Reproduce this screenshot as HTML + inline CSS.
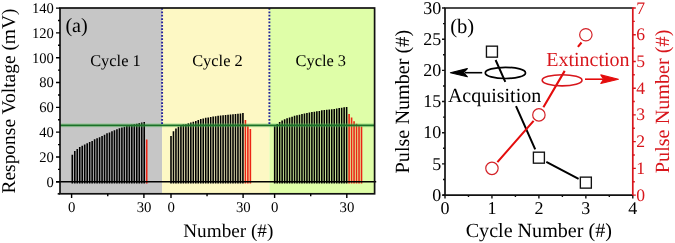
<!DOCTYPE html>
<html><head><meta charset="utf-8"><style>
html,body{margin:0;padding:0;background:#fff;}
body{width:675px;height:243px;overflow:hidden;}
svg{display:block;font-family:"Liberation Serif", serif;text-rendering:geometricPrecision;will-change:transform;}
</style></head><body>
<svg width="675" height="243" viewBox="0 0 675 243">
<rect x="60.0" y="8.0" width="102.1" height="185.8" fill="#c6c6c6"/>
<rect x="162.1" y="8.0" width="107.29999999999998" height="185.8" fill="#fdf8c4"/>
<rect x="269.4" y="8.0" width="105.20000000000005" height="185.8" fill="#dffea8"/>
<path d="M72.30 183.6V154.70 M74.78 183.6V151.03 M77.26 183.6V149.03 M79.74 183.6V146.98 M82.22 183.6V145.74 M84.70 183.6V144.55 M87.18 183.6V143.35 M89.66 183.6V141.92 M92.14 183.6V141.10 M94.62 183.6V139.35 M97.10 183.6V138.32 M99.58 183.6V137.26 M102.06 183.6V135.97 M104.54 183.6V134.63 M107.02 183.6V133.35 M109.50 183.6V132.40 M111.98 183.6V131.14 M114.46 183.6V130.28 M116.94 183.6V129.24 M119.42 183.6V128.26 M121.90 183.6V127.47 M124.38 183.6V126.71 M126.86 183.6V126.04 M129.34 183.6V125.34 M131.82 183.6V124.74 M134.30 183.6V124.15 M136.78 183.6V123.64 M139.26 183.6V123.07 M141.74 183.6V122.59 M144.22 183.6V121.90" stroke="#000" stroke-width="1.6" fill="none"/>
<path d="M146.70 183.6V139.5" stroke="#ec2414" stroke-width="1.6" fill="none"/>
<path d="M171.00 183.6V136.00 M173.48 183.6V131.24 M175.96 183.6V128.46 M178.44 183.6V126.80 M180.92 183.6V125.54 M183.40 183.6V124.58 M185.88 183.6V124.17 M188.36 183.6V123.33 M190.84 183.6V122.50 M193.32 183.6V121.79 M195.80 183.6V120.89 M198.28 183.6V119.96 M200.76 183.6V119.07 M203.24 183.6V118.45 M205.72 183.6V117.85 M208.20 183.6V117.44 M210.68 183.6V117.06 M213.16 183.6V116.62 M215.64 183.6V116.29 M218.12 183.6V115.82 M220.60 183.6V115.50 M223.08 183.6V115.29 M225.56 183.6V115.00 M228.04 183.6V114.80 M230.52 183.6V114.50 M233.00 183.6V114.30 M235.48 183.6V114.01 M237.96 183.6V113.69 M240.44 183.6V113.41 M242.92 183.6V113.00" stroke="#000" stroke-width="1.6" fill="none"/>
<path d="M245.40 183.6V120 M247.88 183.6V126.2 M250.36 183.6V129" stroke="#ec2414" stroke-width="1.6" fill="none"/>
<path d="M274.70 183.6V126.20 M277.18 183.6V123.93 M279.66 183.6V121.90 M282.14 183.6V120.38 M284.62 183.6V119.35 M287.10 183.6V118.37 M289.58 183.6V117.61 M292.06 183.6V116.78 M294.54 183.6V115.79 M297.02 183.6V115.29 M299.50 183.6V114.63 M301.98 183.6V114.00 M304.46 183.6V113.41 M306.94 183.6V112.93 M309.42 183.6V112.42 M311.90 183.6V112.11 M314.38 183.6V111.69 M316.86 183.6V111.31 M319.34 183.6V110.89 M321.82 183.6V110.28 M324.30 183.6V110.08 M326.78 183.6V109.79 M329.26 183.6V109.57 M331.74 183.6V109.28 M334.22 183.6V109.00 M336.70 183.6V108.56 M339.18 183.6V108.08 M341.66 183.6V107.79 M344.14 183.6V107.28 M346.62 183.6V107.00" stroke="#000" stroke-width="1.6" fill="none"/>
<path d="M349.10 183.6V114 M351.58 183.6V117.6 M354.06 183.6V121.3 M356.54 183.6V123.7 M359.02 183.6V125.6 M361.50 183.6V126.5" stroke="#ec2414" stroke-width="1.6" fill="none"/>
<line x1="60.0" y1="125.35" x2="374.6" y2="125.35" stroke="#60c860" stroke-opacity="0.35" stroke-width="4"/>
<line x1="60.0" y1="125.35" x2="374.6" y2="125.35" stroke="#1b7228" stroke-width="1.6"/>
<line x1="162.1" y1="8.1" x2="162.1" y2="124.3" stroke="#22229a" stroke-width="1.9" stroke-dasharray="1.75 1.61"/>
<line x1="269.4" y1="8.1" x2="269.4" y2="124.3" stroke="#22229a" stroke-width="1.9" stroke-dasharray="1.75 1.61"/>
<line x1="56" y1="181.8" x2="376.2" y2="181.8" stroke="#000" stroke-width="1.6"/>
<rect x="60.0" y="8.0" width="314.6" height="185.8" fill="none" stroke="#111" stroke-width="1.7"/>
<line x1="57.7" y1="193.8" x2="60.0" y2="193.8" stroke="#111" stroke-width="1.7"/>
<path d="M56 181.80H60.0 M56 156.99H60.0 M56 132.17H60.0 M56 107.36H60.0 M56 82.54H60.0 M56 57.73H60.0 M56 32.92H60.0 M56 8.10H60.0 M58 169.39H60.0 M58 144.58H60.0 M58 119.77H60.0 M58 94.95H60.0 M58 70.14H60.0 M58 45.32H60.0 M58 20.51H60.0 M71.60 193.8V198.0 M107.75 193.8V196.3 M143.90 193.8V198.0 M171.00 193.8V198.0 M207.05 193.8V196.3 M243.10 193.8V198.0 M274.60 193.8V198.0 M310.70 193.8V196.3 M346.80 193.8V198.0" stroke="#000" stroke-width="1.4" fill="none"/>
<text x="53.8" y="186.70" text-anchor="end" font-size="14.6">0</text>
<text x="53.8" y="161.89" text-anchor="end" font-size="14.6">20</text>
<text x="53.8" y="137.07" text-anchor="end" font-size="14.6">40</text>
<text x="53.8" y="112.26" text-anchor="end" font-size="14.6">60</text>
<text x="53.8" y="87.44" text-anchor="end" font-size="14.6">80</text>
<text x="53.8" y="62.63" text-anchor="end" font-size="14.6">100</text>
<text x="53.8" y="37.82" text-anchor="end" font-size="14.6">120</text>
<text x="53.8" y="13.00" text-anchor="end" font-size="14.6">140</text>
<text x="71.80" y="211.8" text-anchor="middle" font-size="14.8">0</text>
<text x="144.10" y="211.8" text-anchor="middle" font-size="14.8">30</text>
<text x="171.20" y="211.8" text-anchor="middle" font-size="14.8">0</text>
<text x="243.30" y="211.8" text-anchor="middle" font-size="14.8">30</text>
<text x="274.80" y="211.8" text-anchor="middle" font-size="14.8">0</text>
<text x="347.00" y="211.8" text-anchor="middle" font-size="14.8">30</text>
<text transform="translate(14.9 101.0) rotate(-90)" text-anchor="middle" font-size="19.45">Response Voltage (mV)</text>
<text x="228.3" y="236.8" text-anchor="middle" font-size="19.2">Number (#)</text>
<text x="90.2" y="65.5" font-size="16.4">Cycle 1</text>
<text x="192.2" y="65.7" font-size="16.4">Cycle 2</text>
<text x="295.5" y="65.7" font-size="16.4">Cycle 3</text>
<text x="65.4" y="31.8" font-size="20.2">(a)</text>
<path d="M445.0 195.1V8.0H632.8" stroke="#111" stroke-width="1.7" fill="none"/>
<path d="M442.5 195.1H632.8" stroke="#111" stroke-width="1.7" fill="none"/>
<path d="M632.8 7.3V195.79999999999998" stroke="#d8161c" stroke-width="1.7" fill="none"/>
<path d="M442.0 195.10H445.0 M442.0 163.92H445.0 M442.0 132.73H445.0 M442.0 101.55H445.0 M442.0 70.37H445.0 M442.0 39.18H445.0 M442.0 8.00H445.0 M443.0 179.51H445.0 M443.0 148.32H445.0 M443.0 117.14H445.0 M443.0 85.96H445.0 M443.0 54.78H445.0 M443.0 23.59H445.0 M445.00 195.1V198.6 M491.95 195.1V198.6 M538.90 195.1V198.6 M585.85 195.1V198.6 M632.80 195.1V198.6 M468.48 195.1V197.1 M515.42 195.1V197.1 M562.38 195.1V197.1 M609.32 195.1V197.1" stroke="#111" stroke-width="1.4" fill="none"/>
<path d="M632.8 195.10H635.8 M632.8 168.37H635.8 M632.8 141.64H635.8 M632.8 114.91H635.8 M632.8 88.19H635.8 M632.8 61.46H635.8 M632.8 34.73H635.8 M632.8 8.00H635.8 M632.8 181.74H634.8 M632.8 155.01H634.8 M632.8 128.28H634.8 M632.8 101.55H634.8 M632.8 74.82H634.8 M632.8 48.09H634.8 M632.8 21.36H634.8" stroke="#d8161c" stroke-width="1.4" fill="none"/>
<text x="441.2" y="200.70" text-anchor="end" font-size="18">0</text>
<text x="441.2" y="169.52" text-anchor="end" font-size="18">5</text>
<text x="441.2" y="138.33" text-anchor="end" font-size="18">10</text>
<text x="441.2" y="107.15" text-anchor="end" font-size="18">15</text>
<text x="441.2" y="75.97" text-anchor="end" font-size="18">20</text>
<text x="441.2" y="44.78" text-anchor="end" font-size="18">25</text>
<text x="441.2" y="13.60" text-anchor="end" font-size="18">30</text>
<text x="445.00" y="213.6" text-anchor="middle" font-size="18">0</text>
<text x="491.95" y="213.6" text-anchor="middle" font-size="18">1</text>
<text x="538.90" y="213.6" text-anchor="middle" font-size="18">2</text>
<text x="585.85" y="213.6" text-anchor="middle" font-size="18">3</text>
<text x="632.80" y="213.6" text-anchor="middle" font-size="18">4</text>
<text x="636.3" y="200.60" font-size="17.6" fill="#d8161c">0</text>
<text x="636.3" y="173.87" font-size="17.6" fill="#d8161c">1</text>
<text x="636.3" y="147.14" font-size="17.6" fill="#d8161c">2</text>
<text x="636.3" y="120.41" font-size="17.6" fill="#d8161c">3</text>
<text x="636.3" y="93.69" font-size="17.6" fill="#d8161c">4</text>
<text x="636.3" y="66.96" font-size="17.6" fill="#d8161c">5</text>
<text x="636.3" y="40.23" font-size="17.6" fill="#d8161c">6</text>
<text x="636.3" y="13.50" font-size="17.6" fill="#d8161c">7</text>
<text transform="translate(408.9 101.65) rotate(-90)" text-anchor="middle" font-size="20.2">Pulse Number (#)</text>
<text transform="translate(669.4 101.4) rotate(-90)" text-anchor="middle" font-size="20.2" fill="#d8161c">Pulse Number (#)</text>
<text x="538.8" y="237.0" text-anchor="middle" font-size="20.1">Cycle Number (#)</text>
<text x="450.2" y="32.6" font-size="20.6">(b)</text>
<path d="M495.6 60 L505.3 81.8 M516.0 106.2 L535.2 149.4 M546.3 161.8 L578.6 178.8" stroke="#000" stroke-width="2" fill="none"/>
<rect x="486.45" y="46.16" width="11" height="11" fill="none" stroke="#111" stroke-width="1.35"/>
<rect x="533.40" y="152.18" width="11" height="11" fill="none" stroke="#111" stroke-width="1.35"/>
<rect x="580.35" y="177.13" width="11" height="11" fill="none" stroke="#111" stroke-width="1.35"/>
<path d="M497.4 162.1 L533.6 120.9 M543.4 107.3 L564.7 70.9 M577.9 46.8 L581.5 42.5" stroke="#e40c0c" stroke-width="2.1" fill="none"/>
<circle cx="491.95" cy="168.37" r="6.2" fill="none" stroke="#d42228" stroke-width="1.2"/>
<circle cx="538.90" cy="114.91" r="6.2" fill="none" stroke="#d42228" stroke-width="1.2"/>
<circle cx="585.85" cy="34.73" r="6.2" fill="none" stroke="#d42228" stroke-width="1.2"/>
<ellipse cx="505.4" cy="72.9" rx="20.1" ry="5.6" fill="none" stroke="#000" stroke-width="1.7"/>
<line x1="465" y1="72.7" x2="482.2" y2="72.7" stroke="#000" stroke-width="1.6"/>
<path d="M450.4 72.7 L467.4 68.6 L463.6 72.7 L467.4 76.8 Z" fill="#000" stroke="#000" stroke-width="1.1" stroke-linejoin="round"/>
<text x="447.9" y="101.7" font-size="20">Acquisition</text>
<ellipse cx="562.1" cy="80.3" rx="19.9" ry="5.6" fill="none" stroke="#d8161c" stroke-width="1.6"/>
<line x1="585" y1="79.2" x2="603" y2="79.2" stroke="#e40c0c" stroke-width="1.6"/>
<path d="M618.4 79.2 L600.8 74.9 L603.6 79.2 L600.8 83.5 Z" fill="#e40c0c" stroke="#e40c0c" stroke-width="1.1" stroke-linejoin="round"/>
<text x="546.2" y="65.5" font-size="20" fill="#d8161c">Extinction</text>
</svg>
</body></html>
